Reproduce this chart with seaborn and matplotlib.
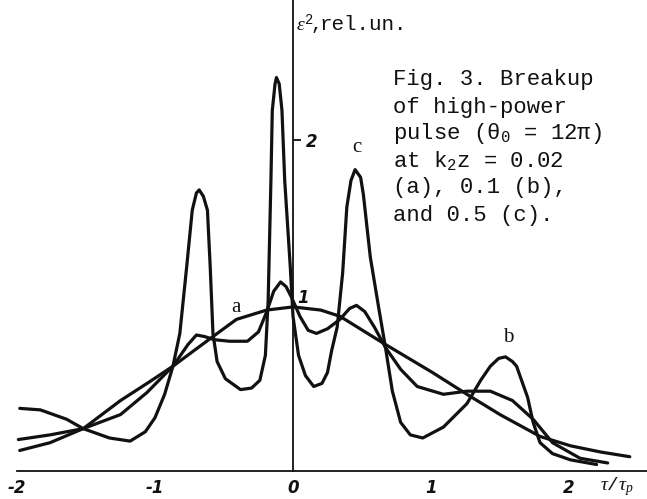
import numpy as np
import pandas as pd
import seaborn as sns
import matplotlib.pyplot as plt
import matplotlib.transforms as mtransforms

# === Curve data (tau/tau_p, eps^2 in rel. units) ===
a_x = [-1.98, -1.76, -1.52, -1.25, -1.04, -0.87, -0.58, -0.41, -0.19, 0.00,
       0.20, 0.34, 0.65, 1.01, 1.26, 1.50, 1.79, 2.01, 2.23, 2.44]
a_y = [0.01, 0.06, 0.15, 0.33, 0.45, 0.55, 0.74, 0.85, 0.91, 0.93,
       0.91, 0.87, 0.70, 0.51, 0.37, 0.24, 0.10, 0.04, 0.00, -0.03]

b_x = [-1.99, -1.76, -1.52, -1.25, -1.06, -0.87, -0.76, -0.70, -0.64, -0.57,
       -0.46, -0.33, -0.25, -0.19, -0.14, -0.09, -0.05, -0.01, 0.05, 0.11,
       0.17, 0.25, 0.34, 0.41, 0.46, 0.52, 0.59, 0.67, 0.78, 0.90,
       1.09, 1.26, 1.43, 1.59, 1.74, 1.88, 2.08, 2.28]
b_y = [0.08, 0.11, 0.15, 0.24, 0.38, 0.55, 0.69, 0.75, 0.74, 0.72,
       0.71, 0.71, 0.77, 0.90, 1.03, 1.09, 1.06, 0.99, 0.87, 0.78,
       0.76, 0.79, 0.85, 0.92, 0.94, 0.90, 0.80, 0.67, 0.53, 0.42,
       0.37, 0.39, 0.39, 0.33, 0.21, 0.06, -0.04, -0.07]

c_x = [-1.98, -1.83, -1.64, -1.52, -1.33, -1.18, -1.07, -1.00, -0.93, -0.87,
       -0.82, -0.77, -0.73, -0.70, -0.68, -0.65, -0.62, -0.60, -0.58, -0.55,
       -0.49, -0.38, -0.30, -0.24, -0.20, -0.18, -0.16, -0.15, -0.13, -0.12,
       -0.10, -0.08, -0.06, -0.02, 0.00, 0.04, 0.09, 0.15, 0.21, 0.25,
       0.28, 0.32, 0.36, 0.39, 0.42, 0.45, 0.49, 0.51, 0.56, 0.62,
       0.67, 0.72, 0.78, 0.85, 0.94, 1.09, 1.26, 1.36, 1.43, 1.49,
       1.54, 1.59, 1.62, 1.70, 1.74, 1.79, 1.88, 2.01, 2.20]
c_y = [0.28, 0.27, 0.21, 0.15, 0.09, 0.07, 0.13, 0.22, 0.37, 0.55,
       0.76, 1.19, 1.55, 1.66, 1.68, 1.64, 1.55, 1.19, 0.76, 0.58,
       0.47, 0.40, 0.41, 0.46, 0.62, 0.97, 1.74, 2.19, 2.36, 2.40,
       2.36, 2.19, 1.74, 1.19, 0.87, 0.62, 0.49, 0.42, 0.44, 0.51,
       0.65, 0.80, 1.15, 1.57, 1.74, 1.81, 1.76, 1.65, 1.25, 0.93,
       0.67, 0.39, 0.19, 0.11, 0.09, 0.16, 0.31, 0.46, 0.55, 0.60,
       0.61, 0.58, 0.55, 0.35, 0.19, 0.06, -0.01, -0.05, -0.08]

x_ticks = [-2, -1, 0, 1, 2]
y_ticks = [1, 2]
curve_labels = ["a", "b", "c"]

caption = ["Fig. 3. Breakup",
           "of high-power",
           r"pulse ($\mathrm{\theta_0}$ = 12$\mathrm{\pi}$)",
           r"at k$_\mathrm{2}$z = 0.02",
           "(a), 0.1 (b),",
           "and 0.5 (c)."]

# === Style ===
sns.set_style("white")
plt.rcParams["mathtext.fontset"] = "custom"
plt.rcParams["mathtext.rm"] = "Liberation Mono"
plt.rcParams["mathtext.it"] = "Liberation Serif:italic"

W, H = 647, 499
fig = plt.figure(figsize=(W / 100, H / 100), dpi=100)
ax = fig.add_axes([0, 0, 1, 1])

ink = "#111111"
base = -0.122
for xs, ys in [(a_x, a_y), (b_x, b_y), (c_x, c_y)]:
    sns.lineplot(x=xs, y=ys, sort=False, estimator=None, color=ink,
                 lw=2.3, ax=ax, solid_joinstyle="round", solid_capstyle="round")

ax.set_xlim(-2.123, 2.565)
ax.set_ylim(-0.301, 2.897)

# axes drawn through the origin like the scanned figure
ax.spines["top"].set_visible(False)
ax.spines["left"].set_visible(False)
ax.spines["bottom"].set_position(("data", base))
ax.spines["bottom"].set_bounds(-2, 2.565)
ax.spines["right"].set_position(("data", 0))
ax.spines["right"].set_bounds(base, 2.897)
for s in ["bottom", "right"]:
    ax.spines[s].set_color(ink)
    ax.spines[s].set_linewidth(1.3)

ax.yaxis.tick_right()
ax.set_xticks(x_ticks)
ax.set_xticklabels([str(t) for t in x_ticks], fontstyle="italic",
                   fontweight="bold", fontsize=12)
ax.set_yticks(y_ticks)
ax.set_yticklabels([str(t) for t in y_ticks], fontstyle="italic",
                   fontweight="bold", fontsize=12)
ax.tick_params(axis="x", direction="in", length=7, width=1.3, pad=6, colors=ink)
ax.tick_params(axis="y", direction="out", length=6, width=1.3, pad=3, colors=ink)
ax.set_xlabel("")
ax.set_ylabel("")

# the "1" mark on the vertical axis has no visible tick, its label hugs the axis
t1 = ax.yaxis.get_major_ticks()[0]
t1.tick2line.set_visible(False)
t1.label2.set_transform(t1.label2.get_transform() +
                        mtransforms.ScaledTranslation(-0.08, 0, fig.dpi_scale_trans))


def px(x, y, s, **kw):
    fig.text(x / W, 1 - y / H, s, **kw)


# axis titles
px(296, 25, r"$\mathit{\varepsilon^2\!,}$", fontsize=14, va="center", color=ink)
px(320, 25, "rel.un.", family="Liberation Mono", fontsize=15, va="center", color=ink)
px(600, 487, r"$\mathit{\tau/\tau_p}$", fontsize=14, va="center", color=ink)

# curve labels
for lab, (lx, ly) in zip(curve_labels, [(236, 307), (508, 338), (357, 147)]):
    px(lx, ly, lab, family="Liberation Serif", fontsize=15, ha="center",
       va="center", color=ink)

# caption block
for i, line in enumerate(caption):
    px(393, 80 + 27 * i, line, family="Liberation Mono", fontsize=16,
       va="center", color=ink)

fig.savefig("out.png", dpi=100, facecolor="white")
